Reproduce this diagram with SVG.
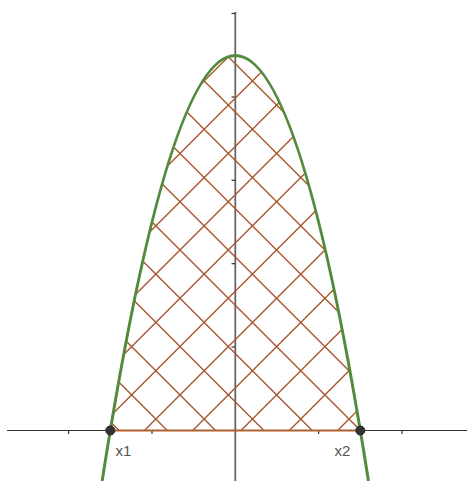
<svg xmlns="http://www.w3.org/2000/svg" width="467" height="481" viewBox="0 0 467 481">
<style>
.axis{stroke:#333;stroke-width:1.2;fill:none}
.yaxis{stroke:#666;stroke-width:1.8;fill:none}
.tick{stroke:#333;stroke-width:1.2}
.hatch{stroke:#a8582c;stroke-width:1.4;fill:none}
.edge{stroke:#b0602e;stroke-width:2;fill:none}
.curve{stroke:#548a3c;stroke-width:3;fill:none}
.pt{fill:#333;stroke:#222;stroke-width:1}
.lbl{font-family:"Liberation Sans",Arial,sans-serif;font-size:15px;fill:#555}
</style>
<defs>
<clipPath id="region"><path d="M110.3,430.5 Q235.3,-319.5 360.3,430.5 Z"/></clipPath>
</defs>
<rect width="467" height="481" fill="#fff"/>
<g id="axes">
<line class="axis" x1="7" y1="430.5" x2="467" y2="430.5"/>
<line class="yaxis" x1="235.3" y1="12" x2="235.3" y2="481"/>
<g class="tick">
<line x1="68.6" y1="430.5" x2="68.6" y2="434"/>
<line x1="152" y1="430.5" x2="152" y2="434"/>
<line x1="318.6" y1="430.5" x2="318.6" y2="434"/>
<line x1="402" y1="430.5" x2="402" y2="434"/>
<line x1="231.5" y1="13.5" x2="235.3" y2="13.5"/>
<line x1="231.5" y1="97" x2="235.3" y2="97"/>
<line x1="231.5" y1="180.3" x2="235.3" y2="180.3"/>
<line x1="231.5" y1="263.7" x2="235.3" y2="263.7"/>
<line x1="231.5" y1="347" x2="235.3" y2="347"/>
</g>
</g>
<g id="region-fill">
<g clip-path="url(#region)">
<path class="hatch" d="M0,285.1 L500,-214.9 M0,333.4 L500,-166.6 M0,381.7 L500,-118.3 M0,430 L500,-70 M0,478.3 L500,-21.7 M0,526.6 L500,26.6 M0,574.9 L500,74.9 M0,623.2 L500,123.2 M0,671.5 L500,171.5 M0,719.8 L500,219.8 M0,768.1 L500,268.1"/>
<path class="hatch" d="M0,311.5 L500,811.5 M0,263.2 L500,763.2 M0,214.9 L500,714.9 M0,166.6 L500,666.6 M0,118.3 L500,618.3 M0,70 L500,570 M0,21.7 L500,521.7 M0,-26.6 L500,473.4 M0,-74.9 L500,425.1 M0,-123.2 L500,376.8 M0,-171.5 L500,328.5"/>
</g>
<line class="edge" x1="110.3" y1="430.5" x2="360.3" y2="430.5"/>
</g>
<g id="parabola">
<path class="curve" d="M102.15,481 Q235.3,-370 368.45,481"/>
</g>
<g id="x1">
<circle class="pt" cx="110.3" cy="430.5" r="4.5"/>
<text class="lbl" x="115.5" y="456">x1</text>
</g>
<g id="x2">
<circle class="pt" cx="360.3" cy="430.5" r="4.5"/>
<text class="lbl" x="334.5" y="456">x2</text>
</g>
</svg>
